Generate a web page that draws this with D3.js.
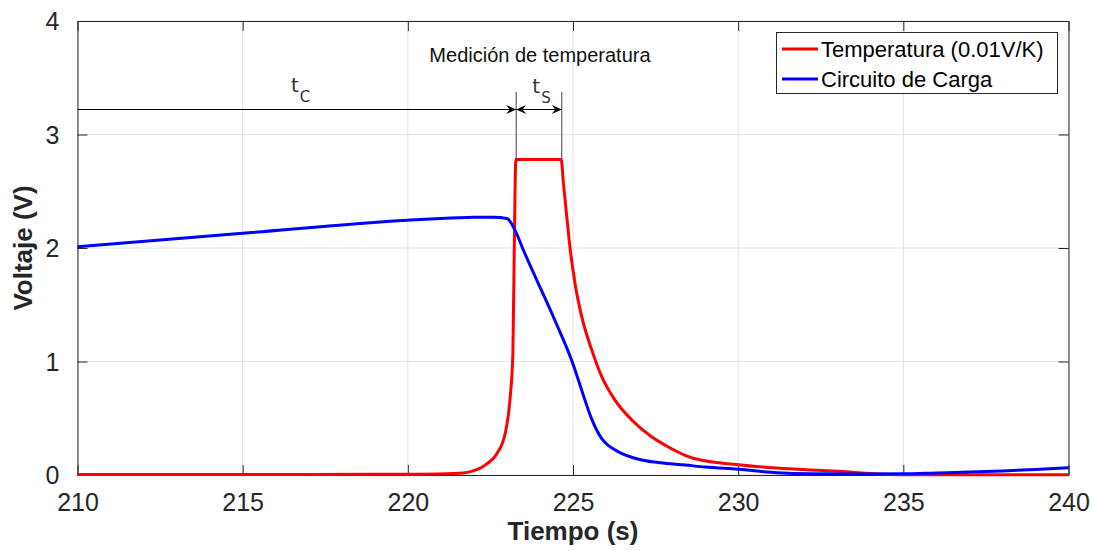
<!DOCTYPE html>
<html>
<head>
<meta charset="utf-8">
<script src="https://cdn.jsdelivr.net/npm/d3@7"></script>
<style>
  html, body { margin: 0; padding: 0; background: #fff; }
  svg { display: block; font-family: "Liberation Sans", Arial, Helvetica, sans-serif; }
</style>
</head>
<body>
<svg id="chart" width="1093" height="551"></svg>
<script>
// Time axis (s) and tick values
const xTicks = [210, 215, 220, 225, 230, 235, 240];
const yTicks = [0, 1, 2, 3, 4];

// Temperature sensor output (0.01 V/K)
const tempTime = [210, 215, 219, 220.4, 221.4, 221.9, 222.4, 222.7, 222.95, 223.09, 223.18, 223.22, 223.27,
  224.64, 224.71, 224.81, 224.91, 225.06, 225.26, 225.57, 225.87, 226.27, 226.78, 227.38, 227.9, 228.64,
  230, 231.67, 233.18, 233.9, 234.6, 235, 237, 240];
const tempVolt = [0.005, 0.005, 0.006, 0.007, 0.013, 0.03, 0.10, 0.19, 0.37, 0.66, 1.07, 1.95, 2.78,
  2.78, 2.57, 2.28, 2.0, 1.69, 1.40, 1.10, 0.866, 0.66, 0.485, 0.337, 0.245, 0.147,
  0.09, 0.053, 0.03, 0.015, 0.005, 0.003, 0.003, 0.003];

// Charging circuit voltage
const chargeTime = [210, 215, 220, 221, 222, 222.6, 223, 223.24, 223.5, 223.9, 224.41, 225.01, 225.26, 225.57,
  225.87, 226.07, 226.47, 227.08, 227.64, 228.39, 229, 230, 231.17, 232.2, 234, 235, 236, 237, 238, 239, 240];
const chargeVolt = [2.01, 2.13, 2.245, 2.26, 2.27, 2.272, 2.26, 2.16, 1.98, 1.72, 1.39, 0.97, 0.75, 0.49,
  0.32, 0.26, 0.19, 0.132, 0.108, 0.088, 0.07, 0.05, 0.02, 0.01, 0.008, 0.01, 0.018, 0.026, 0.036, 0.049, 0.065];

// Measurement window annotation (s) and arrow height (V)
const cycleStart = 210, sampleStart = 223.28, sampleEnd = 224.66;
const arrowLevel = 3.22, markerTop = 3.374, plateau = 2.78;

const seriesNames = ["Temperatura (0.01V/K)", "Circuito de Carga"];
const seriesColors = ["#ff0000", "#0000ff"];

const svg = d3.select("#chart");
const plotLeft = 77.5, plotRight = 1068.5, plotTop = 21, plotBottom = 475;

const x = d3.scaleLinear().domain([210, 240]).range([plotLeft, plotRight]);
const y = d3.scaleLinear().domain([0, 4]).range([plotBottom, plotTop]);

const axisColor = "#262626";
const fmt = d3.format("d");

// grid
const grid = svg.append("g");
grid.selectAll("line.gx").data(xTicks).join("line")
  .attr("x1", d => x(d)).attr("x2", d => x(d)).attr("y1", plotTop).attr("y2", plotBottom)
  .attr("stroke", "#e3e3e3").attr("stroke-width", 1);
grid.selectAll("line.gy").data(yTicks).join("line")
  .attr("x1", plotLeft).attr("x2", plotRight).attr("y1", d => y(d)).attr("y2", d => y(d))
  .attr("stroke", "#e3e3e3").attr("stroke-width", 1);

// axes with inward ticks
const xAxis = svg.append("g").attr("transform", `translate(0,${plotBottom})`)
  .call(d3.axisBottom(x).tickValues(xTicks).tickFormat(fmt).tickSizeInner(-10).tickSizeOuter(0).tickPadding(18));
const xTop = svg.append("g").attr("transform", `translate(0,${plotTop})`)
  .call(d3.axisTop(x).tickValues(xTicks).tickSizeInner(-10).tickSizeOuter(0).tickFormat(""));
const yAxis = svg.append("g").attr("transform", `translate(${plotLeft},0)`)
  .call(d3.axisLeft(y).tickValues(yTicks).tickFormat(fmt).tickSizeInner(-10).tickSizeOuter(0).tickPadding(18));
const yRight = svg.append("g").attr("transform", `translate(${plotRight},0)`)
  .call(d3.axisRight(y).tickValues(yTicks).tickSizeInner(-10).tickSizeOuter(0).tickFormat(""));

[xAxis, xTop, yAxis, yRight].forEach(g => {
  g.select(".domain").attr("stroke", axisColor).attr("stroke-width", 1);
  g.selectAll(".tick line").attr("stroke", axisColor).attr("stroke-width", 1);
  g.selectAll(".tick text").attr("fill", axisColor).attr("font-size", 25)
    .attr("font-family", "Liberation Sans, Arial, sans-serif");
});
xAxis.selectAll(".tick text").attr("dy", "0.71em");
yAxis.selectAll(".tick text").attr("dy", "0.35em");

// series lines
const line = d3.line().x(d => x(d[0])).y(d => y(d[1])).curve(d3.curveMonotoneX);
const tempData = d3.zip(tempTime, tempVolt);
const chargeData = d3.zip(chargeTime, chargeVolt);

const plot = svg.append("g");
plot.append("path").datum(tempData).attr("d", line)
  .attr("fill", "none").attr("stroke", seriesColors[0]).attr("stroke-width", 3)
  .attr("stroke-linejoin", "round");
plot.append("path").datum(chargeData).attr("d", line)
  .attr("fill", "none").attr("stroke", seriesColors[1]).attr("stroke-width", 3)
  .attr("stroke-linejoin", "round");

// annotations: cycle and sample arrows
const ann = svg.append("g");
function head(px, py, dir) {
  const L = 10, W = 4.5, N = 6.5;
  return `M${px},${py} L${px - dir * L},${py - W} L${px - dir * N},${py} L${px - dir * L},${py + W} Z`;
}
const ay = y(arrowLevel);
ann.append("line").attr("x1", x(cycleStart)).attr("x2", x(sampleStart))
  .attr("y1", ay).attr("y2", ay).attr("stroke", "#000").attr("stroke-width", 1);
ann.append("line").attr("x1", x(sampleStart)).attr("x2", x(sampleEnd))
  .attr("y1", ay).attr("y2", ay).attr("stroke", "#000").attr("stroke-width", 1);
ann.append("path").attr("d", head(x(sampleStart), ay, 1)).attr("fill", "#000");
ann.append("path").attr("d", head(x(sampleStart), ay, -1)).attr("fill", "#000");
ann.append("path").attr("d", head(x(sampleEnd), ay, 1)).attr("fill", "#000");
[sampleStart, sampleEnd].forEach(t => {
  ann.append("line").attr("x1", x(t)).attr("x2", x(t))
    .attr("y1", y(markerTop)).attr("y2", y(plateau))
    .attr("stroke", "#404040").attr("stroke-width", 1);
});

ann.append("text").attr("x", x(224.0)).attr("y", 62).attr("text-anchor", "middle")
  .attr("font-size", 20).attr("fill", "#111").text("Medición de temperatura");

function subLabel(px, py, sub) {
  const t = ann.append("text").attr("x", px).attr("y", py).attr("fill", "#333")
    .attr("font-family", "DejaVu Sans, sans-serif");
  t.append("tspan").attr("font-size", 20).text("t");
  t.append("tspan").attr("font-size", 15).attr("dy", 10).attr("dx", 1).text(sub);
}
subLabel(x(216.46), 92, "C");
subLabel(x(223.77), 93, "S");

// axis titles
svg.append("text").attr("x", x(225)).attr("y", 540).attr("text-anchor", "middle")
  .attr("font-size", 26).attr("font-weight", "bold").attr("fill", axisColor).text("Tiempo (s)");
svg.append("text").attr("transform", `translate(32,${y(2)}) rotate(-90)`).attr("text-anchor", "middle")
  .attr("font-size", 26).attr("font-weight", "bold").attr("fill", axisColor).text("Voltaje (V)");

// legend
const lg = svg.append("g");
lg.append("rect").attr("x", 776.5).attr("y", 32.5).attr("width", 281).attr("height", 61)
  .attr("fill", "#fff").attr("stroke", axisColor).attr("stroke-width", 1);
seriesNames.forEach((name, i) => {
  const ry = 49 + i * 30;
  lg.append("line").attr("x1", 782).attr("x2", 818).attr("y1", ry).attr("y2", ry)
    .attr("stroke", seriesColors[i]).attr("stroke-width", 3);
  lg.append("text").attr("x", 821).attr("y", ry).attr("dy", "0.35em")
    .attr("font-size", 22).attr("fill", "#000").text(name);
});
</script>
</body>
</html>
